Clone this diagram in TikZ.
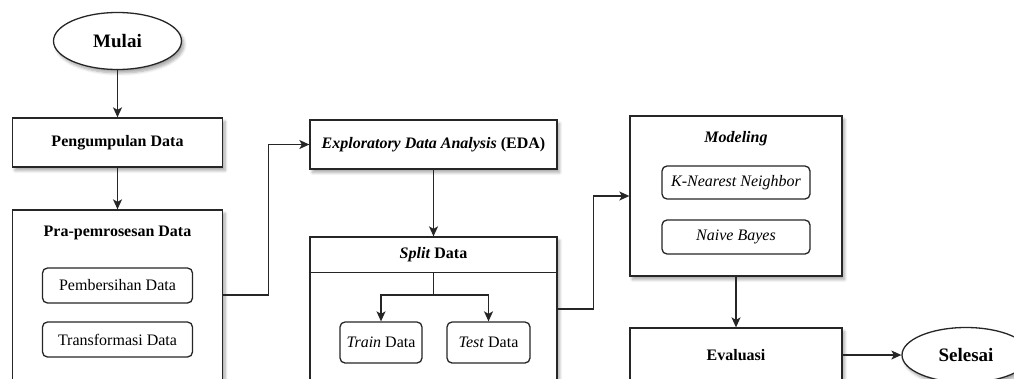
\documentclass[tikz,border=0pt]{standalone}
\usepackage{fontspec}
\setmainfont{Liberation Serif}
\usetikzlibrary{shapes.geometric,arrows.meta,shadows.blur}

\begin{document}
\fontsize{16}{19}\selectfont
\begin{tikzpicture}[x=1pt,y=-1pt,line width=1.3pt,
  box/.style={rectangle,draw=black!85,fill=white,inner sep=0pt,
    blur shadow={shadow xshift=2.5pt,shadow yshift=-3.5pt,shadow blur steps=6,shadow opacity=35}},
  sub/.style={rectangle,draw=black!85,fill=white,rounded corners=5pt,inner sep=0pt},
  term/.style={box,ellipse,font=\fontsize{19}{21}\selectfont\bfseries},
  flow/.style={draw=black!85,-{Stealth[length=10pt,width=9pt,inset=2.5pt]}}]
\useasboundingbox (0,0) rectangle (1014,378);
\clip (0,0) rectangle (1014,378);

% left column
\node[term,minimum width=128pt,minimum height=57pt] (mulai) at (117.5,41) {Mulai};
\node[box,minimum width=210pt,minimum height=49pt,font=\bfseries] (kumpul) at (117.5,142.5) {Pengumpulan Data};
\node[box,minimum width=210pt,minimum height=170pt] (pra) at (117.5,295) {};
\node[font=\bfseries] (praT) at (117.5,233) {Pra-pemrosesan Data};
\node[sub,minimum width=150pt,minimum height=35pt] (bersih) at (117.5,285.5) {Pembersihan Data};
\node[sub,minimum width=150pt,minimum height=35pt] (transf) at (117.5,339.5) {Transformasi Data};

% middle column
\node[box,minimum width=247pt,minimum height=49pt,font=\bfseries] (eda) at (433.5,144.5) {\textit{Exploratory Data Analysis} (EDA)};
\node[box,minimum width=247pt,minimum height=144pt] (split) at (433.5,309) {};
\coordinate (hdl) at ([yshift=-36pt]split.north west);
\draw[draw=black!85] (hdl) -- (hdl -| split.east);
\node[font=\bfseries] (splitT) at (433.5,255) {\textit{Split} Data};
\coordinate (hub) at (433.5,295);
\node[sub,minimum width=82pt,minimum height=41pt] (train) at (381,342.5) {\textit{Train} Data};
\node[sub,minimum width=83pt,minimum height=41pt] (test) at (488.5,342.5) {\textit{Test} Data};
\draw[draw=black!85] (hdl -| hub) -- (hub);
\draw[flow] (hub) -| (train);
\draw[flow] (hub) -| (test);

% right column
\node[box,minimum width=212pt,minimum height=160pt] (model) at (736,196) {};
\node[font=\bfseries\itshape] (modelT) at (736,139) {Modeling};
\node[sub,minimum width=148pt,minimum height=33pt] (knn) at (736,182.5) {\textit{K-Nearest Neighbor}};
\node[sub,minimum width=148pt,minimum height=34pt] (nb) at (736,237) {\textit{Naive Bayes}};
\node[box,minimum width=212pt,minimum height=54pt,font=\bfseries] (eval) at (736,355) {Evaluasi};
\node[term,minimum width=128pt,minimum height=55pt] (selesai) at (966,355) {Selesai};

\draw[flow] (mulai) -- (kumpul);
\draw[flow] (kumpul) -- (pra);
\draw[flow] (pra.east) -- ++(45,0) |- (eda);
\draw[flow] (eda) -- (split);
\draw[flow] (split.east) -- ++(36,0) |- (model);
\draw[flow] (model) -- (eval);
\draw[flow] (eval) -- (selesai);
\end{tikzpicture}
\end{document}
